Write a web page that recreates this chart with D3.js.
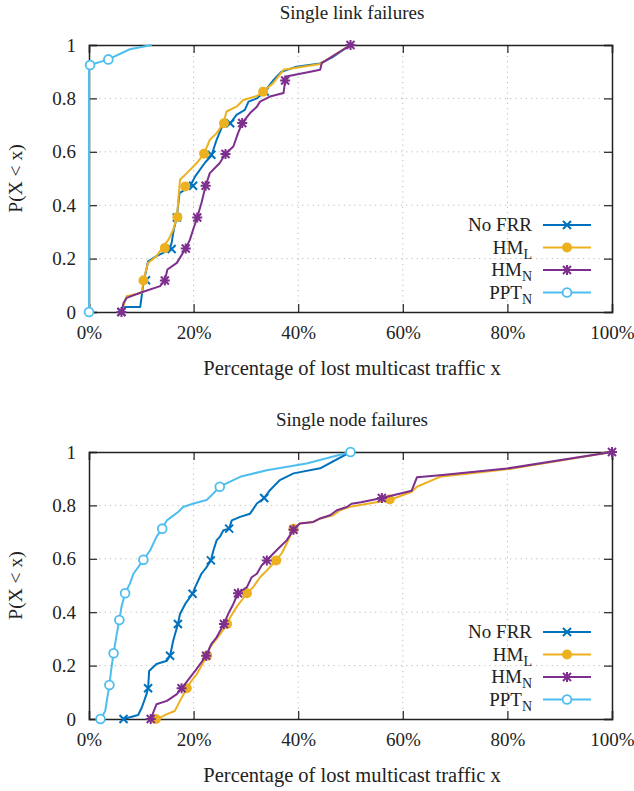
<!DOCTYPE html>
<html>
<head>
<meta charset="utf-8">
<script src="https://cdn.jsdelivr.net/npm/d3@7/dist/d3.min.js"></script>
<style>
  body { margin: 0; background: #fff; }
  text { font-family: "Liberation Serif", "Times New Roman", serif; fill: #222; }
</style>
</head>
<body>
<div id="chart"></div>
<script>
// ---- data (x in %, y = P(X < x)) ----
const xTicks = [0, 20, 40, 60, 80, 100];
const yTicks = [0, 0.2, 0.4, 0.6, 0.8, 1];
const seriesLabels = ["No FRR", "HM", "HM", "PPT"];
const seriesSubs = ["", "L", "N", "N"];
const panelTitles = ["Single link failures", "Single node failures"];

// single link failures
const linkNoFrr = [[6.2,0],[6.9,0.019],[9.8,0.019],[10.4,0.107],[11.3,0.19],[12.9,0.209],[15.4,0.234],[15.8,0.259],
  [16.2,0.308],[16.8,0.355],[17.3,0.445],[19.3,0.47],[20.3,0.508],[22.2,0.56],[23.4,0.585],[24.4,0.645],[25.4,0.692],
  [27,0.707],[28.2,0.738],[29.8,0.757],[30.5,0.788],[32.1,0.8],[33.6,0.826],[35.2,0.867],[36.8,0.9],[39.7,0.919],
  [44.2,0.931],[46.7,0.956],[50,1]];
const linkNoFrrMarks = [[6.2,0],[10.9,0.119],[15.8,0.236],[16.8,0.354],[19.9,0.473],[23.4,0.589],[27,0.707],[33.6,0.826]];
const linkHmL = [[6.2,0],[7.2,0.059],[10.1,0.072],[10.4,0.119],[11.3,0.184],[12.9,0.209],[15.2,0.271],[16.1,0.308],
  [16.8,0.355],[17.4,0.495],[18.7,0.52],[20.6,0.558],[22,0.593],[23.1,0.645],[24.4,0.67],[25.7,0.707],[26.3,0.751],
  [28.2,0.769],[29.5,0.794],[32.1,0.809],[33.3,0.825],[35.2,0.857],[37.2,0.907],[44.2,0.929],[50,1]];
const linkHmLMarks = [[10.4,0.118],[14.5,0.24],[16.9,0.355],[18.4,0.47],[22,0.593],[25.8,0.707],[33.3,0.825]];
const linkHmN = [[6.2,0],[6.6,0.034],[7.2,0.053],[9.8,0.072],[13.6,0.097],[14.5,0.119],[15,0.159],[16.8,0.184],
  [18.5,0.239],[19.3,0.271],[19.9,0.308],[20.7,0.355],[21.5,0.408],[22.3,0.473],[23.1,0.52],[25,0.558],[26.1,0.593],
  [27.6,0.62],[28.5,0.67],[29.3,0.708],[30.8,0.745],[32.1,0.769],[32.7,0.788],[34.6,0.807],[37.2,0.82],[37.5,0.867],
  [37.7,0.882],[41.6,0.897],[44.2,0.907],[44.5,0.932],[50,1]];
const linkHmNMarks = [[6.2,0],[14.5,0.118],[18.5,0.238],[20.7,0.354],[22.3,0.473],[26.1,0.592],[29.3,0.708],[37.5,0.867],[50,1]];
const linkPptN = [[0,0],[0,0.9],[0.2,0.925],[3.7,0.946],[7.8,0.984],[12,1]];
const linkPptNMarks = [[0,0],[0.2,0.925],[3.7,0.946]];

// single node failures
const nodeNoFrr = [[6.6,0],[9.4,0.015],[10.1,0.043],[11,0.093],[11.3,0.115],[11.5,0.18],[12.9,0.206],[14.9,0.218],
  [15.5,0.237],[16.1,0.293],[17,0.356],[17.4,0.393],[18.4,0.431],[19.8,0.469],[20.3,0.494],[21.5,0.544],[22.5,0.569],
  [23.3,0.594],[23.8,0.632],[24.4,0.669],[25,0.682],[25.7,0.707],[26.8,0.713],[27.3,0.744],[28.9,0.757],[30.8,0.769],
  [32.1,0.807],[33.5,0.828],[34.6,0.857],[36.5,0.895],[39.1,0.92],[44.2,0.939],[50,1]];
const nodeNoFrrMarks = [[6.6,0],[11.3,0.115],[15.5,0.237],[17,0.356],[19.8,0.469],[23.3,0.594],[26.8,0.713],[33.5,0.828]];
const nodeHmL = [[12.8,0],[13.6,0.005],[14.9,0.018],[16.4,0.03],[17.4,0.068],[18.7,0.115],[19.6,0.143],[20.6,0.168],
  [22.4,0.231],[23.1,0.268],[24.4,0.3],[26,0.343],[27,0.381],[28.2,0.419],[30.2,0.471],[31.4,0.494],[32.7,0.531],
  [34,0.556],[35.8,0.594],[36.8,0.619],[37.8,0.657],[39.1,0.713],[40.3,0.732],[42.9,0.738],[44.2,0.751],[46.7,0.763],
  [48,0.782],[49.9,0.795],[57.5,0.82],[61.7,0.851],[62.7,0.87],[67.1,0.907],[79.9,0.935],[100,1]];
const nodeHmLMarks = [[12.8,0],[18.7,0.115],[22.6,0.237],[26.4,0.356],[30.2,0.471],[35.8,0.594],[39.1,0.713],[57.5,0.822]];
const nodeHmN = [[11.8,0],[12.9,0.055],[14.9,0.068],[16.8,0.093],[17.7,0.115],[19.3,0.155],[20.3,0.18],[22.4,0.237],
  [23.4,0.281],[24.4,0.306],[25.8,0.356],[26.6,0.393],[27.6,0.431],[28.5,0.471],[30.2,0.494],[31.1,0.531],[32.1,0.544],
  [33,0.575],[34,0.594],[35.2,0.619],[36.5,0.644],[37.8,0.669],[39.1,0.709],[40.3,0.732],[42.9,0.738],[44.2,0.751],
  [46.1,0.763],[47.4,0.782],[49.3,0.794],[50.2,0.806],[52,0.812],[56,0.828],[61.7,0.855],[62.7,0.905],[67.1,0.913],
  [79.9,0.938],[100,1]];
const nodeHmNMarks = [[11.8,0],[17.7,0.115],[22.4,0.237],[25.8,0.356],[28.5,0.471],[34,0.594],[39.1,0.709],[56,0.828],[100,1]];
const nodePptN = [[2.2,0],[3.1,0.03],[3.5,0.08],[3.9,0.127],[4.3,0.193],[4.7,0.246],[5.3,0.318],[5.8,0.371],[6.2,0.419],
  [6.9,0.471],[7.8,0.506],[8.5,0.544],[10.4,0.596],[11.7,0.632],[12.9,0.682],[14,0.713],[14.9,0.744],[17.1,0.776],
  [18,0.794],[20,0.807],[22.5,0.82],[23.8,0.845],[25,0.87],[28.9,0.907],[34,0.932],[41.6,0.957],[50,1]];
const nodePptNMarks = [[2.2,0],[3.9,0.127],[4.7,0.246],[5.8,0.371],[6.9,0.471],[10.4,0.596],[14,0.713],[25,0.87],[50,1]];

const colors = ["#0072bd", "#edb120", "#7e2f8e", "#4dbeee"];
const shapes = ["cross", "dot", "star", "ring"];

const panels = [
  { top: 45, lines: [linkNoFrr, linkHmL, linkHmN, linkPptN], marks: [linkNoFrrMarks, linkHmLMarks, linkHmNMarks, linkPptNMarks] },
  { top: 452, lines: [nodeNoFrr, nodeHmL, nodeHmN, nodePptN], marks: [nodeNoFrrMarks, nodeHmLMarks, nodeHmNMarks, nodePptNMarks] }
];

const W = 634, H = 791;
const left = 89, right = 612, plotH = 267;

const svg = d3.select("#chart").append("svg")
  .attr("width", W)
  .attr("height", H);

function drawMarker(g, shape, color, x, y) {
  if (shape === "cross") {
    g.append("path")
      .attr("d", `M${x-4},${y-4}L${x+4},${y+4}M${x-4},${y+4}L${x+4},${y-4}`)
      .attr("stroke", color).attr("stroke-width", 2).attr("fill", "none");
  } else if (shape === "dot") {
    g.append("circle").attr("cx", x).attr("cy", y).attr("r", 5).attr("fill", color);
  } else if (shape === "star") {
    g.append("path")
      .attr("d", `M${x-4},${y-4}L${x+4},${y+4}M${x-4},${y+4}L${x+4},${y-4}M${x},${y-5}L${x},${y+5}M${x-5},${y}L${x+5},${y}`)
      .attr("stroke", color).attr("stroke-width", 2).attr("fill", "none");
  } else {
    g.append("circle").attr("cx", x).attr("cy", y).attr("r", 4.4)
      .attr("fill", "#fff").attr("stroke", color).attr("stroke-width", 1.8);
  }
}

panels.forEach((p, pi) => {
  const x = d3.scaleLinear().domain([0, 100]).range([left, right]);
  const y = d3.scaleLinear().domain([0, 1]).range([p.top + plotH, p.top]);
  const g = svg.append("g");

  // grid
  g.append("g").selectAll("line.gx")
    .data(xTicks.slice(1, -1)).join("line")
    .attr("x1", d => x(d)).attr("x2", d => x(d))
    .attr("y1", y(0)).attr("y2", y(1))
    .attr("stroke", "#bbb").attr("stroke-dasharray", "1.2,4");
  g.append("g").selectAll("line.gy")
    .data(yTicks.slice(1, -1)).join("line")
    .attr("x1", x(0)).attr("x2", x(100))
    .attr("y1", d => y(d)).attr("y2", d => y(d))
    .attr("stroke", "#bbb").attr("stroke-dasharray", "1.2,4");

  // axes (ticks inward, mirrored)
  const fmtX = d => d + "%";
  const fmtY = d => d === 0 || d === 1 ? String(d) : d.toFixed(1);
  const axB = g.append("g").attr("transform", `translate(0,${y(0)})`)
    .call(d3.axisBottom(x).tickValues(xTicks).tickSize(-8).tickPadding(14).tickFormat(fmtX));
  const axT = g.append("g").attr("transform", `translate(0,${y(1)})`)
    .call(d3.axisTop(x).tickValues(xTicks).tickSize(-8).tickFormat(""));
  const axL = g.append("g").attr("transform", `translate(${x(0)},0)`)
    .call(d3.axisLeft(y).tickValues(yTicks).tickSize(-8).tickPadding(13).tickFormat(fmtY));
  const axR = g.append("g").attr("transform", `translate(${x(100)},0)`)
    .call(d3.axisRight(y).tickValues(yTicks).tickSize(-8).tickFormat(""));
  [axB, axT, axL, axR].forEach(a => {
    a.select(".domain").attr("stroke", "#222").attr("stroke-width", 1.5);
    a.selectAll(".tick line").attr("stroke", "#222").attr("stroke-width", 1.2);
    a.selectAll("text").style("font-family", "Liberation Serif").attr("font-size", 19).attr("fill", "#222");
  });

  // lines and markers
  const line = d3.line().x(d => x(d[0])).y(d => y(d[1]));
  p.lines.forEach((data, si) => {
    g.append("path").datum(data)
      .attr("fill", "none")
      .attr("stroke", colors[si])
      .attr("stroke-width", 2)
      .attr("stroke-linejoin", "round")
      .attr("d", line);
    const mg = g.append("g");
    p.marks[si].forEach(m => drawMarker(mg, shapes[si], colors[si], x(m[0]), y(m[1])));
  });

  // title and axis labels
  g.append("text")
    .attr("x", 352).attr("y", p.top - 26)
    .attr("text-anchor", "middle").attr("font-size", 19)
    .text(panelTitles[pi]);
  g.append("text")
    .attr("x", 352).attr("y", y(0) + 63)
    .attr("text-anchor", "middle").attr("font-size", 20.5)
    .text("Percentage of lost multicast traffic x");
  g.append("text")
    .attr("transform", `translate(22,${(y(0) + y(1)) / 2}) rotate(-90)`)
    .attr("text-anchor", "middle").attr("font-size", 19.5)
    .text("P(X < x)");

  // legend
  const ly0 = p.top + 180;
  seriesLabels.forEach((lab, si) => {
    const ly = ly0 + si * 22.5;
    const t = g.append("text")
      .attr("x", 532).attr("y", ly + 6)
      .attr("text-anchor", "end").attr("font-size", 19);
    t.append("tspan").text(lab);
    if (seriesSubs[si]) t.append("tspan").attr("font-size", 14).attr("dy", 5).text(seriesSubs[si]);
    g.append("line")
      .attr("x1", 543).attr("x2", 591).attr("y1", ly).attr("y2", ly)
      .attr("stroke", colors[si]).attr("stroke-width", 2);
    drawMarker(g, shapes[si], colors[si], 567, ly);
  });
});
</script>
</body>
</html>
